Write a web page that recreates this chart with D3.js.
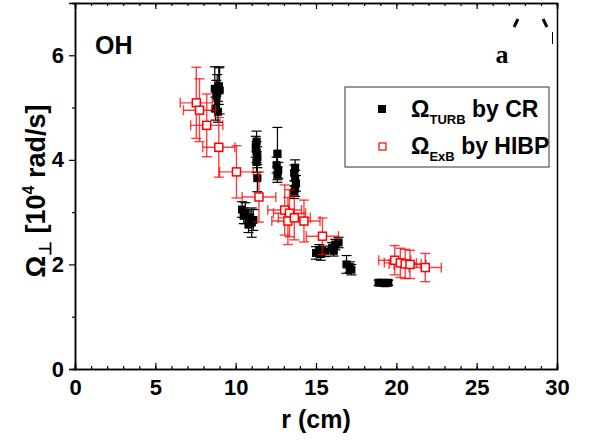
<!DOCTYPE html>
<html>
<head>
<meta charset="utf-8">
<script src="https://cdn.jsdelivr.net/npm/d3@7"></script>
<style>
  body { margin: 0; background: #fff; }
  text { font-family: "Liberation Sans", Arial, sans-serif; font-weight: bold; }
</style>
</head>
<body>
<div id="chart"></div>
<script>
// Omega_TURB by correlation reflectometry (black, filled)
var crR      = [8.7, 8.85, 9.0, 8.8, 8.95, 8.75, 8.9,
                11.3, 11.25, 11.3, 11.35, 11.3, 11.35,
                12.6, 12.55, 12.65, 12.6,
                13.7, 13.65, 13.7, 13.75, 13.7, 13.65,
                10.4, 10.6, 10.5, 10.9, 11.0, 11.1, 10.8,
                15.0, 15.3, 15.55, 15.2,
                16.0, 16.2, 16.4, 16.1,
                16.9, 17.1, 17.2,
                18.9, 19.1, 19.3, 19.5];
var crOmega  = [5.36, 5.28, 5.33, 5.22, 5.41, 4.98, 4.92,
                4.35, 4.25, 4.15, 4.05, 3.96, 3.65,
                4.12, 3.9, 3.8, 3.72,
                3.85, 3.75, 3.65, 3.55, 3.45, 3.38,
                3.05, 2.98, 2.93, 2.9, 2.8, 2.85, 2.76,
                2.22, 2.2, 2.25, 2.28,
                2.32, 2.38, 2.42, 2.26,
                2.0, 1.95, 1.9,
                1.65, 1.65, 1.64, 1.65];
var crErr    = [0.42, 0.35, 0.45, 0.3, 0.35, 0.22, 0.2,
                0.2, 0.2, 0.2, 0.2, 0.2, 0.26,
                0.5, 0.15, 0.15, 0.15,
                0.15, 0.15, 0.15, 0.15, 0.15, 0.12,
                0.15, 0.2, 0.15, 0.15, 0.28, 0.2, 0.15,
                0.12, 0.12, 0.1, 0.1,
                0.1, 0.1, 0.1, 0.1,
                0.17, 0.1, 0.1,
                0.05, 0.05, 0.05, 0.05];
var crErrR = 0.2;

// Omega_ExB by HIBP (red, open)
var hibpR      = [7.55, 7.75, 8.2, 8.95, 10.05, 11.45, 13.05, 13.35, 13.25, 13.65, 14.25, 15.4, 19.9, 20.25, 20.55, 20.85, 21.8];
var hibpOmega  = [5.09, 4.95, 4.66, 4.24, 3.77, 3.29, 3.04, 2.98, 2.83, 2.89, 2.83, 2.54, 2.08, 2.03, 2.01, 2.0, 1.94];
var hibpErrR   = [1.0, 1.0, 1.0, 1.0, 1.05, 1.05, 1.05, 1.0, 1.0, 1.0, 1.0, 1.0, 1.0, 1.0, 1.0, 1.0, 1.0];
var hibpErr    = [0.68, 0.6, 0.6, 0.57, 0.5, 0.48, 0.48, 0.45, 0.45, 0.42, 0.4, 0.35, 0.28, 0.28, 0.28, 0.27, 0.27];

var xMajor = [0, 5, 10, 15, 20, 25, 30];
var yMajor = [0, 2, 4, 6];

var width = 598, height = 443;
var margin = {top: 3, right: 41, bottom: 74, left: 75};

var svg = d3.select("#chart").append("svg")
  .attr("width", width)
  .attr("height", height);

var x = d3.scaleLinear().domain([0, 30]).range([margin.left, width - margin.right]);
var y = d3.scaleLinear().domain([0, 7]).range([height - margin.bottom, margin.top]);

// axes: bottom/top ticks inward, left ticks outward
svg.append("g").attr("transform", "translate(0," + y(0) + ")")
  .call(d3.axisBottom(x).tickValues(d3.range(0, 31, 1)).tickSize(-3).tickFormat(""));
svg.append("g").attr("transform", "translate(0," + y(0) + ")")
  .call(d3.axisBottom(x).tickValues(xMajor).tickSize(-6).tickPadding(10).tickFormat(d3.format("d")));

svg.append("g").attr("transform", "translate(0," + y(7) + ")")
  .call(d3.axisTop(x).tickValues(d3.range(0, 31, 1)).tickSize(-3).tickFormat(""));
svg.append("g").attr("transform", "translate(0," + y(7) + ")")
  .call(d3.axisTop(x).tickValues(xMajor).tickSize(-6).tickFormat(""));

svg.append("g").attr("transform", "translate(" + x(0) + ",0)")
  .call(d3.axisLeft(y).tickValues([1, 3, 5]).tickSize(3).tickFormat(""));
svg.append("g").attr("transform", "translate(" + x(0) + ",0)")
  .call(d3.axisLeft(y).tickValues(yMajor).tickSize(6).tickPadding(5).tickFormat(d3.format("d")));

svg.append("g").attr("transform", "translate(" + x(30) + ",0)")
  .call(d3.axisRight(y).tickValues([]).tickSize(0).tickFormat(""));

svg.selectAll(".domain").attr("stroke", "#000").attr("stroke-width", 1.5);
svg.selectAll(".tick line").attr("stroke", "#000").attr("stroke-width", 1.2);
svg.selectAll(".tick text").attr("font-size", 22).attr("fill", "#000");

var plot = svg.append("g");

// CR error bars and points
var cr = crR.map(function(r, i) { return {r: r, w: crOmega[i], e: crErr[i]}; });
var crBars = plot.append("g").attr("stroke", "#000").attr("stroke-width", 1.2);
cr.forEach(function(d) {
  var cx = x(d.r), cy = y(d.w);
  var yTop = y(d.w + d.e), yBot = y(d.w - d.e);
  var xl = x(d.r - crErrR), xr = x(d.r + crErrR);
  crBars.append("line").attr("x1", cx).attr("x2", cx).attr("y1", yTop).attr("y2", yBot);
  crBars.append("line").attr("x1", cx - 5).attr("x2", cx + 5).attr("y1", yTop).attr("y2", yTop);
  crBars.append("line").attr("x1", cx - 5).attr("x2", cx + 5).attr("y1", yBot).attr("y2", yBot);
  crBars.append("line").attr("x1", xl).attr("x2", xr).attr("y1", cy).attr("y2", cy);
  crBars.append("line").attr("x1", xl).attr("x2", xl).attr("y1", cy - 3).attr("y2", cy + 3);
  crBars.append("line").attr("x1", xr).attr("x2", xr).attr("y1", cy - 3).attr("y2", cy + 3);
});
plot.append("g").selectAll("rect")
  .data(cr)
  .enter().append("rect")
    .attr("x", function(d) { return x(d.r) - 4; })
    .attr("y", function(d) { return y(d.w) - 4; })
    .attr("width", 8)
    .attr("height", 8)
    .attr("fill", "#000");

// HIBP error bars and points
var hibp = hibpR.map(function(r, i) {
  return {r: r, w: hibpOmega[i], er: hibpErrR[i], e: hibpErr[i]};
});
var hBars = plot.append("g").attr("stroke", "#ff0000").attr("stroke-width", 1.4).attr("stroke-opacity", 0.75);
hibp.forEach(function(d) {
  var cx = x(d.r), cy = y(d.w);
  var yTop = y(d.w + d.e), yBot = y(d.w - d.e);
  var xl = x(d.r - d.er), xr = x(d.r + d.er);
  hBars.append("line").attr("x1", cx).attr("x2", cx).attr("y1", yTop).attr("y2", yBot);
  hBars.append("line").attr("x1", cx - 5).attr("x2", cx + 5).attr("y1", yTop).attr("y2", yTop);
  hBars.append("line").attr("x1", cx - 5).attr("x2", cx + 5).attr("y1", yBot).attr("y2", yBot);
  hBars.append("line").attr("x1", xl).attr("x2", xr).attr("y1", cy).attr("y2", cy);
  hBars.append("line").attr("x1", xl).attr("x2", xl).attr("y1", cy - 5).attr("y2", cy + 5);
  hBars.append("line").attr("x1", xr).attr("x2", xr).attr("y1", cy - 5).attr("y2", cy + 5);
});
plot.append("g").selectAll("rect")
  .data(hibp)
  .enter().append("rect")
    .attr("x", function(d) { return x(d.r) - 4; })
    .attr("y", function(d) { return y(d.w) - 4; })
    .attr("width", 8)
    .attr("height", 8)
    .attr("fill", "#fff")
    .attr("stroke", "#ff0000")
    .attr("stroke-width", 1.5);

// axis titles
svg.append("text")
  .attr("x", (x(0) + x(30)) / 2)
  .attr("y", 428)
  .attr("text-anchor", "middle")
  .attr("font-size", 25)
  .text("r (cm)");

var yl = svg.append("text")
  .attr("transform", "translate(45,191) rotate(-90)")
  .attr("text-anchor", "middle")
  .attr("font-size", 27);
yl.append("tspan").text("Ω");
yl.append("tspan").attr("font-size", 17).attr("dy", 6).text("⊥");
yl.append("tspan").attr("dy", -6).text(" [10");
yl.append("tspan").attr("font-size", 16).attr("dy", -11).text("4");
yl.append("tspan").attr("dy", 11).text(" rad/s]");

// panel labels
svg.append("text").attr("x", 95).attr("y", 54).attr("font-size", 25).text("OH");
svg.append("text").attr("x", 502).attr("y", 63).attr("text-anchor", "middle")
  .style("font-family", "'Liberation Serif', 'Times New Roman', serif")
  .attr("font-size", 26).text("a");
// remnants of the clipped "( )"
svg.append("path").attr("d", "M518,19 L514,27").attr("stroke", "#000").attr("stroke-width", 3);
svg.append("path").attr("d", "M543,19 L547,27").attr("stroke", "#000").attr("stroke-width", 3);
svg.append("path").attr("d", "M552.5,32 L552.5,44").attr("stroke", "#000").attr("stroke-width", 1);

// legend
var legend = svg.append("g");
legend.append("rect")
  .attr("x", 345).attr("y", 87).attr("width", 204).attr("height", 80)
  .attr("fill", "#fff").attr("stroke", "#333").attr("stroke-width", 1);
legend.append("rect").attr("x", 378).attr("y", 105).attr("width", 8).attr("height", 8).attr("fill", "#000");
legend.append("rect").attr("x", 379).attr("y", 143).attr("width", 7).attr("height", 7)
  .attr("fill", "#fff").attr("stroke", "#ff0000").attr("stroke-width", 1.2);

var l1 = legend.append("text").attr("x", 411).attr("y", 117).attr("font-size", 23);
l1.append("tspan").text("Ω");
l1.append("tspan").attr("font-size", 13).attr("dy", 7).text("TURB");
l1.append("tspan").attr("dy", -7).text(" by CR");

var l2 = legend.append("text").attr("x", 411).attr("y", 154).attr("font-size", 23);
l2.append("tspan").text("Ω");
l2.append("tspan").attr("font-size", 13).attr("dy", 7).text("ExB");
l2.append("tspan").attr("dy", -7).text(" by HIBP");
</script>
</body>
</html>
